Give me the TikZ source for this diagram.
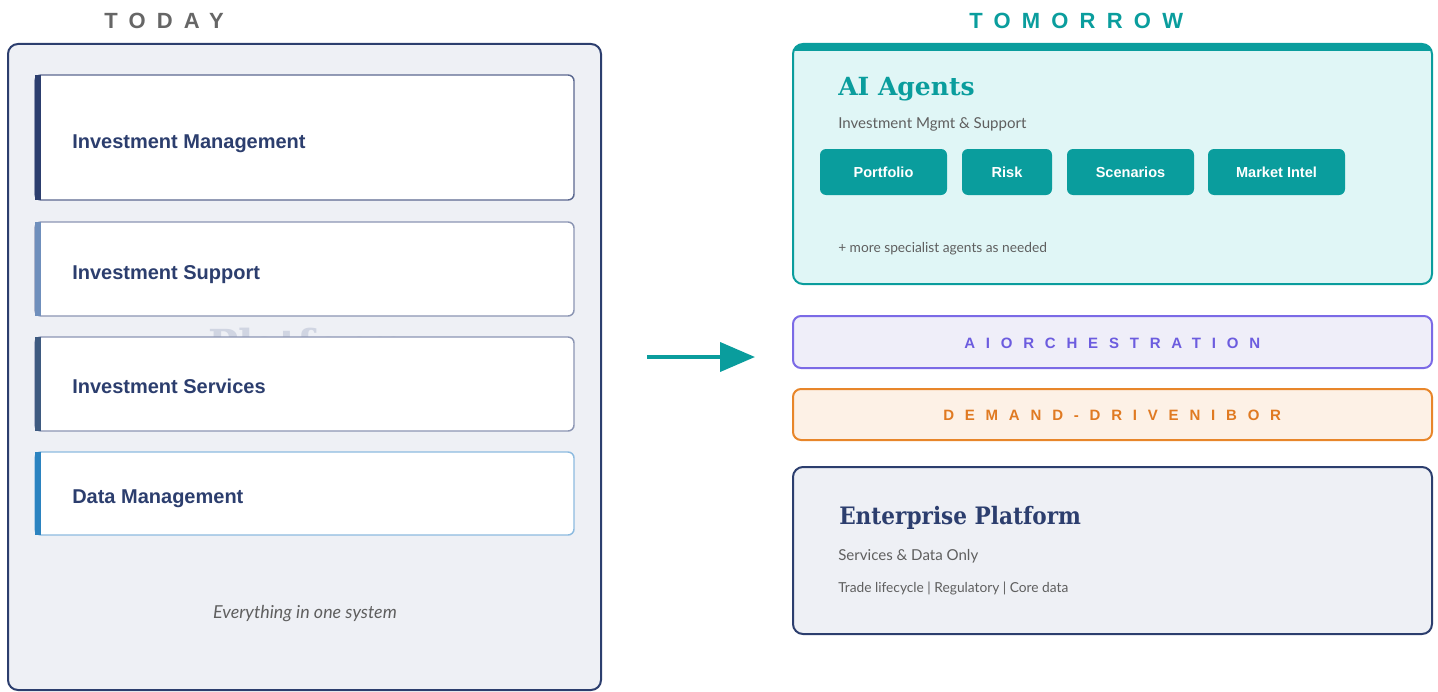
\documentclass[tikz,border=0pt]{standalone}
\usepackage{fontspec}
\setmainfont{Liberation Sans}
\newfontfamily\lato{Lato}
\newfontfamily\titleserif{DejaVu Serif}
\newfontfamily\narrowserif{DejaVu Serif}[FakeStretch=0.9]
\usetikzlibrary{arrows.meta}

\definecolor{navy}{RGB}{44,62,110}
\definecolor{panelgray}{RGB}{238,240,245}
\definecolor{headgray}{RGB}{102,102,102}
\definecolor{textgray}{RGB}{95,95,95}
\definecolor{tealmain}{RGB}{10,157,157}
\definecolor{tealfill}{RGB}{224,246,246}
\definecolor{ghost}{RGB}{208,213,226}
\definecolor{rimmid}{RGB}{139,149,179}
\definecolor{rimdark}{RGB}{91,104,144}
\definecolor{rimlight}{RGB}{141,187,224}
\definecolor{barone}{RGB}{44,62,110}
\definecolor{bartwo}{RGB}{111,143,188}
\definecolor{barthree}{RGB}{62,90,128}
\definecolor{barfour}{RGB}{43,131,192}
\definecolor{violetrim}{RGB}{123,106,230}
\definecolor{violettext}{RGB}{108,92,223}
\definecolor{violetfill}{RGB}{239,238,249}
\definecolor{orangerim}{RGB}{232,134,42}
\definecolor{orangetext}{RGB}{224,122,34}
\definecolor{orangefill}{RGB}{253,241,230}

\tikzset{
  header/.style={anchor=base west, inner sep=0pt,
    font=\fontsize{16.5pt}{18pt}\selectfont\bfseries\addfontfeature{LetterSpace=51}},
  layerlabel/.style={anchor=base west, inner sep=0pt, text=navy,
    font=\fontsize{15pt}{18pt}\selectfont\bfseries},
  bandlabel/.style={anchor=base west, inner sep=0pt,
    font=\fontsize{11.25pt}{13pt}\selectfont\bfseries\addfontfeature{LetterSpace=72}},
  note/.style={anchor=base west, inner sep=0pt, text=textgray},
  chip/.style={fill=tealmain, rounded corners=4.5pt, text=white,
    minimum height=34.5pt, inner sep=0pt,
    font=\fontsize{10.9pt}{13pt}\selectfont\bfseries},
}

\begin{document}
\begin{tikzpicture}[x=0.75pt, y=-0.75pt]
\useasboundingbox (0,0) rectangle (1438,692);

% ---------- left column: the monolith ----------
\node[header, text=headgray] (today) at (104,29) {TODAY};

\draw[navy, line width=1.5pt, fill=panelgray, rounded corners=7.5pt]
  (8,44) rectangle (601,690);

% watermark word behind the stacked layers
\node[anchor=base west, inner sep=0pt, text=ghost,
      font=\titleserif\bfseries\fontsize{30pt}{33pt}\selectfont]
  (watermark) at (208,358) {Platform};

% stacked layers: border colour, bar colour, top, bottom
\foreach \rim/\bar/\top/\bot in {rimdark/barone/75/200, rimmid/bartwo/222/316,
                                  rimmid/barthree/337/431, rimlight/barfour/452/535}{
  \draw[\rim, line width=1.1pt, fill=white, rounded corners=4.5pt]
    (35,\top) rectangle (574,\bot);
  \fill[\bar] (35,\top) rectangle (41,\bot);
}
\node[layerlabel] (im) at (72,148) {Investment Management};
\node[layerlabel] (is) at (72,279) {Investment Support};
\node[layerlabel] (isv) at (72,393) {Investment Services};
\node[layerlabel] (dm) at (72,503) {Data Management};

\node[anchor=base, inner sep=0pt, text=textgray,
      font=\lato\itshape\fontsize{13.4pt}{15pt}\selectfont]
  (oneSystem) at (305,618) {Everything in one system};

% ---------- transition arrow ----------
\coordinate (arrowTail) at (647,357);
\coordinate (arrowTip) at (755,357);
\draw[tealmain, line width=3pt,
      -{Triangle[length=26.25pt, width=21.75pt]}] (arrowTail) -- (arrowTip);

% ---------- right column: the layered target ----------
\node[header, text=tealmain] (tomorrow) at (969,29) {TOMORROW};

% AI agents panel with a solid top edge
\begin{scope}
  \clip[rounded corners=7.5pt] (793,44) rectangle (1432,284);
  \fill[tealfill] (793,44) rectangle (1432,284);
  \fill[tealmain] (793,44) rectangle (1432,51);
\end{scope}
\draw[tealmain, line width=1.5pt, rounded corners=7.5pt]
  (793,44) rectangle (1432,284);

\node[anchor=base west, inner sep=0pt, text=tealmain,
      font=\titleserif\bfseries\fontsize{18.75pt}{22pt}\selectfont]
  (aiTitle) at (838,95) {AI Agents};
\node[note, font=\lato\fontsize{11.3pt}{14pt}\selectfont]
  (aiSub) at (838,128) {Investment Mgmt \& Support};

\node[chip, minimum width=95.25pt]  (portfolio) at (883.5,172) {Portfolio};
\node[chip, minimum width=67.5pt]   (risk)      at (1007,172)  {Risk};
\node[chip, minimum width=95.25pt]  (scenarios) at (1130.5,172) {Scenarios};
\node[chip, minimum width=102.75pt] (intel)     at (1276.5,172) {Market Intel};

\node[note, font=\lato\fontsize{10.3pt}{12pt}\selectfont]
  (moreAgents) at (838,252) {+ more specialist agents as needed};

% orchestration band
\draw[violetrim, line width=1.5pt, fill=violetfill, rounded corners=6pt]
  (793,316) rectangle (1432,368);
\node[bandlabel, text=violettext] (orch) at (964,348) {AIORCHESTRATION};

% IBOR band
\draw[orangerim, line width=1.5pt, fill=orangefill, rounded corners=6pt]
  (793,389) rectangle (1432,440);
\node[bandlabel, text=orangetext] (ibor) at (943,420) {DEMAND-DRIVENIBOR};

% enterprise platform panel
\draw[navy, line width=1.5pt, fill=panelgray, rounded corners=7.5pt]
  (793,467) rectangle (1432,634);
\node[anchor=base west, inner sep=0pt, text=navy,
      font=\narrowserif\bfseries\fontsize{18pt}{22pt}\selectfont]
  (epTitle) at (839,524) {Enterprise Platform};
\node[note, font=\lato\fontsize{11.3pt}{14pt}\selectfont]
  (epSub) at (838,560) {Services \& Data Only};
\node[note, font=\lato\fontsize{10.3pt}{12pt}\selectfont]
  (epScope) at (838,592) {Trade lifecycle | Regulatory | Core data};
\end{tikzpicture}
\end{document}
